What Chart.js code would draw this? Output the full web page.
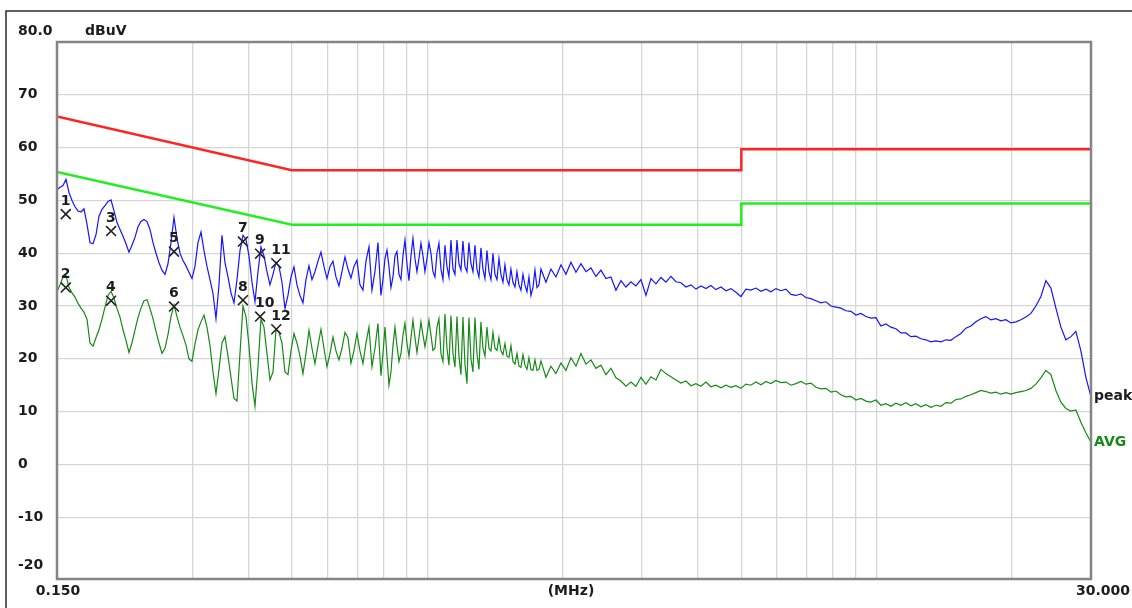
<!DOCTYPE html>
<html>
<head>
<meta charset="utf-8">
<script src="https://cdn.jsdelivr.net/npm/chart.js@4.4.0/dist/chart.umd.min.js"></script>
<style>
html, body { margin: 0; padding: 0; background: #fff; }
canvas { display: block; }
</style>
</head>
<body>
<canvas id="emiChart" width="1132" height="608"></canvas>
<script>
// scan frequencies (MHz), shared by both traces
const freqMHz = [
  0.15, 0.15232, 0.15468, 0.15708, 0.15951, 0.16198, 0.16449, 0.16704, 0.16963, 0.17226,
  0.17492, 0.17763, 0.18038, 0.18318, 0.18602, 0.18890, 0.19182, 0.19480, 0.19781, 0.20088,
  0.20399, 0.20715, 0.21036, 0.21361, 0.21692, 0.22028, 0.22370, 0.22716, 0.23068, 0.23425,
  0.23788, 0.24156, 0.24531, 0.24911, 0.25296, 0.25688, 0.26086, 0.26490, 0.26901, 0.27317,
  0.27740, 0.28170, 0.28606, 0.29049, 0.29499, 0.29956, 0.30420, 0.30891, 0.31370, 0.31856,
  0.32349, 0.32850, 0.33359, 0.33876, 0.34400, 0.34933, 0.35474, 0.36024, 0.36582, 0.37149,
  0.37724, 0.38308, 0.38901, 0.39504, 0.40116, 0.40737, 0.41368, 0.42009, 0.42660, 0.43321,
  0.43991, 0.44673, 0.45365, 0.46067, 0.46781, 0.47506, 0.48242, 0.48989, 0.49748, 0.50518,
  0.51301, 0.52095, 0.52902, 0.53722, 0.54554, 0.55399, 0.56257, 0.57128, 0.58013, 0.58912,
  0.59824, 0.60751, 0.61692, 0.62647, 0.63618, 0.64603, 0.65604, 0.66620, 0.67652, 0.68700,
  0.69764, 0.70844, 0.71942, 0.73056, 0.74188, 0.75337, 0.76504, 0.77689, 0.78892,
  0.79705, 0.80526,
  0.81355, 0.82193, 0.83040, 0.83895, 0.84759, 0.85632, 0.86514, 0.87405, 0.88305, 0.89215,
  0.90134, 0.91062, 0.92000, 0.92948, 0.93905, 0.94873, 0.95850, 0.96837, 0.97834, 0.98842,
  0.99860, 1.00889, 1.01928, 1.02978, 1.04038, 1.05110, 1.06192, 1.07286, 1.08391, 1.09508,
  1.10636, 1.11776, 1.12927, 1.14090, 1.15265, 1.16452, 1.17652, 1.18864, 1.20088, 1.21325,
  1.22574, 1.23837, 1.25112, 1.26401, 1.27703, 1.29018, 1.30347, 1.31689, 1.33046, 1.34416,
  1.35801, 1.37200, 1.38613, 1.40041, 1.41483, 1.42940, 1.44413, 1.45900, 1.47403, 1.48921,
  1.50455, 1.52005, 1.53570, 1.55152, 1.56750, 1.58365, 1.59996, 1.61644, 1.63309, 1.64991,
  1.66690, 1.68407, 1.70142, 1.71894, 1.73665, 1.75453, 1.77260, 1.79086,
  1.8373, 1.8850, 1.9339, 1.9841, 2.0356, 2.0884, 2.1426, 2.1982, 2.2553, 2.3138,
  2.3738, 2.4354, 2.4986, 2.5634, 2.6300, 2.6982, 2.7682, 2.8401, 2.9138, 2.9893,
  3.0669, 3.1465, 3.2281, 3.3119, 3.3978, 3.4860, 3.5765, 3.6693, 3.7645, 3.8622,
  3.9624, 4.0652, 4.1707, 4.2789, 4.3899, 4.5038, 4.6207, 4.7406, 4.8636, 4.9898,
  5.1193, 5.2521, 5.3884, 5.5282, 5.6717, 5.8188, 5.9698, 6.1247, 6.2837, 6.4468,
  6.6140, 6.7856, 6.9617, 7.1423, 7.3277, 7.5178, 7.7129, 7.9131, 8.1184, 8.3291,
  8.5451, 8.7669, 8.9943, 9.2277, 9.4672, 9.7128, 9.9649, 10.223, 10.489, 10.761,
  11.040, 11.327, 11.620, 11.922, 12.231, 12.549, 12.874, 13.209, 13.551, 13.903,
  14.264, 14.634, 15.013, 15.403, 15.803, 16.213, 16.634, 17.065, 17.508, 17.962,
  18.428, 18.906, 19.397, 19.900, 20.417, 20.947, 21.490, 22.048, 22.620, 23.207,
  23.809, 24.427, 25.061, 25.711, 26.378, 27.062, 27.765, 28.485, 29.224, 30.0
];

// peak detector trace (dBuV)
const peakDb = [
  52.0, 52.5, 52.8, 54.0, 51.5, 50.0, 48.8, 48.0, 47.8, 48.4,
  45.5, 42.0, 41.8, 43.5, 47.0, 48.3, 49.0, 49.8, 50.1, 48.0,
  45.8, 44.5, 43.2, 41.8, 40.2, 41.5, 43.0, 45.0, 46.0, 46.4,
  46.0, 44.5, 42.0, 40.0, 38.2, 36.8, 36.0, 38.0, 42.0, 46.8,
  42.8, 40.0, 38.6, 37.6, 36.4, 35.2, 37.5, 42.0, 44.0, 40.5,
  37.5, 35.0, 32.4, 27.6, 34.0, 43.4, 38.2, 35.5, 32.5, 30.6,
  35.0, 40.5, 43.4, 42.6, 39.5, 34.5, 30.8, 36.5, 41.2, 39.5,
  36.5, 34.0, 36.0, 38.3, 37.5, 34.5, 29.5, 32.0, 35.5, 37.4,
  34.0, 32.0, 30.6, 35.0, 37.6, 35.0, 36.5, 38.5, 40.2, 37.5,
  35.2, 37.5, 38.5, 35.5, 33.8, 36.5, 39.3, 37.0, 35.3, 37.5,
  38.7, 34.0, 33.0, 38.5, 41.2, 33.0, 36.5, 42.0, 32.0,
  35.0, 39.0,
  40.6, 37.5, 33.5, 35.5, 39.5, 40.3, 36.0, 35.0, 39.5, 42.5,
  38.0, 34.8, 39.5, 42.8, 39.0, 36.5, 39.0, 41.9, 39.5, 36.5,
  39.0, 42.0, 40.0, 36.5, 35.5, 40.0, 41.9, 37.0, 35.0, 41.5,
  37.5, 35.5, 42.5, 37.0, 36.0, 42.5, 38.0, 36.8, 42.3, 37.5,
  36.5, 42.0, 38.0, 36.5, 41.5, 37.0, 35.5, 41.0, 37.0, 35.2,
  40.5, 36.5, 35.0, 40.0, 36.0, 35.0, 39.0, 36.0, 34.5, 37.8,
  35.0, 34.0, 37.0, 34.5, 33.6, 36.5, 34.0, 33.0, 36.0, 34.0,
  32.7, 35.5, 32.0, 33.5, 36.8, 33.5, 34.0, 37.0,
  34.5, 37.0, 35.5, 37.8, 36.0, 38.3, 36.4, 38.0, 36.5, 37.2,
  35.6, 36.8, 35.2, 35.5, 33.0, 34.8, 33.6, 34.6, 33.8, 35.0,
  32.0, 35.2, 34.2, 35.4, 34.5, 35.6, 34.6, 34.4, 33.6, 34.0,
  33.2, 33.8, 33.3, 33.9, 33.1, 33.6, 32.9, 33.3, 32.6, 31.8,
  33.2, 33.0, 33.4, 32.8, 33.2, 32.7, 33.3, 32.9, 33.2, 32.2,
  32.0, 32.3, 31.6, 31.4, 31.0, 30.6, 30.8, 30.0, 29.8, 29.6,
  29.1, 29.0, 28.3, 28.6, 28.0, 27.7, 27.8, 26.2, 26.6, 26.0,
  25.7, 24.9, 24.9, 24.2, 24.3, 23.8, 23.6, 23.2, 23.4, 23.2,
  23.6, 23.5, 24.2, 24.8, 25.8, 26.2, 27.0, 27.6, 28.0, 27.4,
  27.6, 27.2, 27.4, 26.8, 27.0, 27.4, 27.9, 28.6, 30.0, 31.8,
  34.8, 33.4, 29.6, 26.0, 23.6, 24.2, 25.2, 21.5, 16.5, 12.8
];

// average detector trace (dBuV)
const avgDb = [
  32.7, 34.0, 35.5, 35.8, 33.5, 32.5, 31.7, 30.5, 29.6, 28.8,
  27.5, 23.0, 22.4, 24.0, 25.5, 27.5, 29.8, 32.0, 32.8, 31.5,
  29.5, 27.9, 25.5, 23.5, 21.2, 23.0, 25.5, 27.8, 29.6, 31.0,
  31.2, 29.5, 27.6, 25.2, 23.0, 21.0, 22.0, 24.6, 28.0, 30.2,
  28.0, 26.0, 24.4, 22.6, 20.0, 19.5, 22.8, 25.5, 27.0, 28.3,
  26.0, 22.5, 17.5, 13.4, 18.0, 23.0, 24.2, 20.5, 16.5, 12.5,
  12.0, 21.0, 30.0, 28.0, 22.5, 15.5, 11.0, 18.5, 27.5, 26.0,
  21.0, 16.0, 17.5, 25.5, 25.0, 23.0, 17.5, 17.0, 21.5, 24.8,
  23.0, 20.5, 17.2, 21.0, 25.4, 22.0, 19.1, 22.5, 25.6, 22.0,
  18.5, 21.0, 24.1, 21.5, 19.8, 22.0, 25.0, 24.0, 19.2, 21.5,
  24.8, 21.5, 19.1, 23.0, 26.0, 18.5, 22.0, 26.7, 16.8,
  21.0, 26.0,
  20.5, 15.0, 17.5, 22.5, 26.0, 22.5, 19.5, 21.0, 24.5, 26.7,
  23.0, 20.5, 24.0, 27.3, 24.0, 21.2, 24.0, 27.0, 24.5, 22.3,
  24.5, 27.3, 24.5, 21.6, 22.0, 26.0, 27.6, 21.0, 19.5, 28.5,
  22.0, 18.8, 28.2, 21.0, 18.4, 28.0, 20.5, 17.0, 27.9, 19.0,
  15.3, 27.8, 20.0, 17.5, 27.8, 21.0, 18.0, 27.0, 22.0, 20.5,
  26.0, 22.0, 21.5, 25.0, 22.0, 21.6, 24.0, 21.5, 20.8, 22.9,
  20.5, 20.3, 22.5, 19.5, 19.0, 21.0, 18.6, 18.4, 20.8, 18.8,
  18.0, 20.2, 18.0, 17.8, 19.8, 17.8, 18.0, 19.6,
  16.5, 18.6, 17.2, 19.2, 17.8, 20.2, 18.6, 21.0, 19.0, 19.8,
  18.2, 18.8, 17.0, 18.2, 16.4, 15.8, 14.8, 15.6, 14.8, 16.5,
  15.2, 16.6, 16.0, 18.0, 17.2, 16.6, 16.0, 15.4, 15.8, 14.9,
  15.3, 14.8, 15.6, 14.7, 15.0, 14.5, 15.0, 14.6, 14.9, 14.4,
  15.2, 15.0, 15.6, 15.1, 15.7, 15.3, 15.9, 15.5, 15.6, 15.0,
  15.3, 15.7, 15.2, 15.4, 14.6, 14.3, 14.4, 13.7, 13.9, 13.2,
  12.8, 12.9, 12.2, 12.5, 12.0, 11.8, 12.2, 11.2, 11.5, 11.0,
  11.6, 11.2, 11.7, 11.1, 11.5, 10.9, 11.3, 10.8, 11.2, 11.0,
  11.7, 11.6, 12.3, 12.4, 12.9, 13.2, 13.6, 14.0, 13.8, 13.5,
  13.7, 13.3, 13.6, 13.3, 13.6, 13.8, 14.0, 14.4, 15.2, 16.4,
  17.8, 17.0, 14.0, 11.8, 10.6, 10.1, 10.3, 8.0, 6.0, 4.2
];

// limit lines (QP red, AVG green)
const limitFreq = [0.15, 0.5, 5, 5, 30];
const qpLimit = [65.9, 55.7, 55.7, 59.7, 59.7];
const avLimit = [55.4, 45.4, 45.4, 49.4, 49.4];

// final measurement markers
const markerFreq = [0.1569, 0.1569, 0.1979, 0.1979, 0.2732, 0.2732, 0.3889, 0.3889, 0.4247, 0.4247, 0.4614, 0.4614];
const markerDb = [47.4, 33.5, 44.2, 31.0, 40.3, 29.9, 42.2, 31.1, 39.9, 28.0, 38.1, 25.6];
const markerLabels = ['1', '2', '3', '4', '5', '6', '7', '8', '9', '10', '11', '12'];

// grid / tick values
const xGridMHz = [0.3, 0.4, 0.5, 0.6, 0.7, 0.8, 0.9, 1, 2, 3, 4, 5, 6, 7, 8, 9, 10, 20];
const yGridDb = [-10, 0, 10, 20, 30, 40, 50, 60, 70];
const yLabelDb = [70, 60, 50, 40, 30, 20, 10, 0, -10, -20];

const ctx = document.getElementById('emiChart').getContext('2d');
const FONT = 'bold 14px "DejaVu Sans"';

function toPoints(xs, ys) {
    return xs.map((x, i) => ({ x: x, y: ys[i] }));
}

// texts, frames and marker numbers
const emiDecor = {
    id: 'emiDecor',
    beforeDraw(chart) {
        const c = chart.ctx;
        c.save();
        c.fillStyle = '#ffffff';
        c.fillRect(0, 0, chart.width, chart.height);
        c.restore();
    },
    afterDraw(chart) {
        const c = chart.ctx;
        const a = chart.chartArea;
        const ys = chart.scales.y;
        c.save();

        // plot frame
        c.strokeStyle = '#858585';
        c.lineWidth = 2.5;
        c.strokeRect(a.left, a.top, a.right - a.left, a.bottom - a.top);

        // outer frame (top and left)
        c.strokeStyle = '#2a2a2a';
        c.lineWidth = 1.5;
        c.beginPath();
        c.moveTo(6, chart.height);
        c.lineTo(6, 11);
        c.lineTo(chart.width, 11);
        c.stroke();

        c.font = FONT;
        c.fillStyle = '#1c1c1c';
        c.textBaseline = 'middle';
        c.textAlign = 'left';

        // y labels
        yLabelDb.forEach(v => {
            let y = ys.getPixelForValue(v);
            if (v === -20) y -= 5;
            c.fillText(String(v), 18, y);
        });
        c.fillText('80.0', 18, a.top - 11);
        c.fillText('dBuV', 85, a.top - 11);

        // x labels
        c.textAlign = 'center';
        c.fillText('0.150', a.left + 1, a.bottom + 12);
        c.fillText('(MHz)', 571, a.bottom + 12);
        c.fillText('30.000', a.right + 12, a.bottom + 12);

        // trace end labels
        c.textAlign = 'left';
        c.fillText('peak', a.right + 3, ys.getPixelForValue(peakDb[peakDb.length - 1]));
        c.fillStyle = '#168a16';
        c.fillText('AVG', a.right + 3, ys.getPixelForValue(avgDb[avgDb.length - 1]));

        // marker numbers
        c.fillStyle = '#1c1c1c';
        const meta = chart.getDatasetMeta(0);
        meta.data.forEach((p, i) => {
            c.fillText(markerLabels[i], p.x - 5, p.y - 13);
        });
        c.restore();
    }
};

const chart = new Chart(ctx, {
    type: 'line',
    data: {
        datasets: [
            {
                label: 'markers',
                data: toPoints(markerFreq, markerDb),
                showLine: false,
                pointStyle: 'crossRot',
                pointRadius: 7,
                borderColor: '#222222',
                borderWidth: 1.6,
                order: 0
            },
            {
                label: 'peak',
                data: toPoints(freqMHz, peakDb),
                borderColor: '#1414ff',
                borderWidth: 1.2,
                pointRadius: 0,
                order: 1
            },
            {
                label: 'AVG',
                data: toPoints(freqMHz, avgDb),
                borderColor: '#168a16',
                borderWidth: 1.2,
                pointRadius: 0,
                order: 2
            },
            {
                label: 'QP limit',
                data: toPoints(limitFreq, qpLimit),
                borderColor: '#ff2424',
                borderWidth: 2.5,
                pointRadius: 0,
                order: 3
            },
            {
                label: 'AV limit',
                data: toPoints(limitFreq, avLimit),
                borderColor: '#22ee22',
                borderWidth: 2.5,
                pointRadius: 0,
                order: 3
            }
        ]
    },
    options: {
        responsive: false,
        animation: false,
        devicePixelRatio: 1,
        layout: { padding: { left: 57, top: 42, right: 41, bottom: 29 } },
        plugins: {
            legend: { display: false },
            tooltip: { enabled: false }
        },
        scales: {
            x: {
                type: 'logarithmic',
                min: 0.15,
                max: 30,
                afterBuildTicks: scale => { scale.ticks = xGridMHz.map(v => ({ value: v })); },
                afterFit: scale => { scale.height = 0; },
                ticks: { display: false },
                grid: { color: '#d6d6d6', lineWidth: 1.3, drawTicks: false },
                border: { display: false }
            },
            y: {
                type: 'linear',
                min: -21.7,
                max: 80,
                afterBuildTicks: scale => { scale.ticks = yGridDb.map(v => ({ value: v })); },
                afterFit: scale => { scale.width = 0; },
                ticks: { display: false },
                grid: { color: '#d6d6d6', lineWidth: 1.3, drawTicks: false },
                border: { display: false }
            }
        }
    },
    plugins: [emiDecor]
});
</script>
</body>
</html>
